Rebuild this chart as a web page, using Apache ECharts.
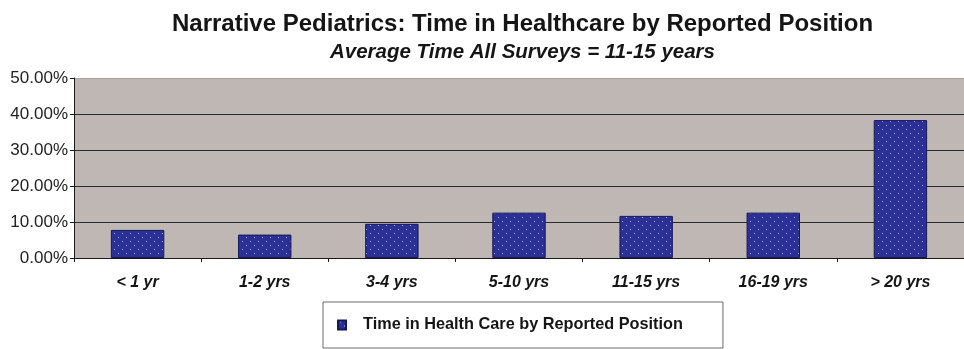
<!DOCTYPE html>
<html>
<head>
<meta charset="utf-8">
<script src="https://cdn.jsdelivr.net/npm/echarts@6/dist/echarts.min.js"></script>
<style>
  html, body { margin: 0; padding: 0; background: #ffffff; }
  #chart { width: 964px; height: 349px; }
</style>
</head>
<body>
<div id="chart"></div>
<script>
// Years spent in healthcare, share of respondents per bracket (%)
const categories = ['< 1 yr', '1-2 yrs', '3-4 yrs', '5-10 yrs', '11-15 yrs', '16-19 yrs', '> 20 yrs'];
const shares = [7.8, 6.5, 9.5, 12.6, 11.7, 12.6, 38.3];
const seriesName = 'Time in Health Care by Reported Position';
const titleText = 'Narrative Pediatrics: Time in Healthcare by Reported Position';
const subtitleText = 'Average Time All Surveys = 11-15 years';

// Dotted navy fill for the bars (staggered light dots)
function dotPattern() {
  const c = document.createElement('canvas');
  c.width = 8; c.height = 8;
  const g = c.getContext('2d');
  g.fillStyle = '#2b2f98';
  g.fillRect(0, 0, 8, 8);
  g.fillStyle = '#a6aef0';
  g.fillRect(2, 1, 1, 1);
  g.fillRect(6, 5, 1, 1);
  return c;
}

const chart = echarts.init(document.getElementById('chart'));
const font = '"Liberation Sans", Arial, Helvetica, sans-serif';

chart.setOption({
  animation: false,
  textStyle: { fontFamily: font },
  title: [
    { text: titleText, left: 167, top: 7,
      textStyle: { fontSize: 24, fontWeight: 'bold', color: '#151515', fontFamily: font } },
    { text: subtitleText, left: 325, top: 37,
      textStyle: { fontSize: 20.5, fontWeight: 'bold', fontStyle: 'italic', color: '#151515', fontFamily: font } }
  ],
  legend: {
    left: 323, top: 302,
    padding: [15, 40, 15, 14],
    borderColor: '#6a6a6a', borderWidth: 1,
    icon: 'rect', itemWidth: 8, itemHeight: 9,
    textStyle: { fontSize: 16.3, fontWeight: 'bold', color: '#151515', padding: [0, 0, 0, 12], fontFamily: font },
    data: [seriesName]
  },
  grid: { left: 74, top: 78, width: 896, height: 180, containLabel: false,
    show: true, backgroundColor: '#bfb7b3', borderWidth: 0 },
  xAxis: {
    type: 'category', data: categories,
    axisLine: { lineStyle: { color: '#1a1a1a', width: 1 } },
    axisTick: { show: true, length: 4, lineStyle: { color: '#1a1a1a' } },
    axisLabel: { margin: 17, fontSize: 16, fontWeight: 'bold', fontStyle: 'italic', color: '#151515', fontFamily: font }
  },
  yAxis: {
    type: 'value', min: 0, max: 50, interval: 10,
    axisLine: { show: true, lineStyle: { color: '#1a1a1a', width: 1 } },
    axisTick: { show: true, length: 4, lineStyle: { color: '#1a1a1a' } },
    axisLabel: { margin: 6, fontSize: 17, color: '#222', fontFamily: font,
      formatter: v => v.toFixed(2) + '%' },
    splitLine: { show: true, lineStyle: {
      color: ['#2a2a2a', '#2a2a2a', '#2a2a2a', '#2a2a2a', '#2a2a2a', '#a9a3a0'], width: 1 } }
  },
  series: [{
    name: seriesName, type: 'bar', data: shares, barWidth: '42%',
    itemStyle: { color: { image: dotPattern(), repeat: 'repeat' }, borderColor: '#16185a', borderWidth: 1 }
  }]
});
</script>
</body>
</html>
